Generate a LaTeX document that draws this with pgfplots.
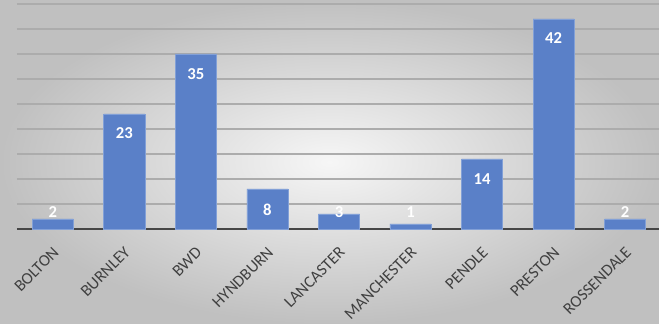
\documentclass[border=0pt]{standalone}
\usepackage{pgfplots}
\pgfplotsset{compat=1.18}
\usepackage{pgfplotstable}
\usepackage{fontspec}
\setmainfont{Carlito}
\definecolor{barblue}{RGB}{90,128,200}
\definecolor{baredge}{RGB}{130,160,215}
\definecolor{gridgray}{RGB}{172,172,172}
\definecolor{axisdark}{RGB}{70,70,70}
\definecolor{labgray}{RGB}{64,64,64}
\pgfplotstableread{
x v ly
0 2 3.4
1 23 19.2
2 35 30.9
3 8 3.8
4 3 3.4
5 1 3.4
6 14 9.9
7 42 38.2
8 2 3.4
}\datatab
\begin{document}
\begin{tikzpicture}[x=0.75pt,y=0.75pt]
\shade[inner color={rgb,255:red,246;green,246;blue,246}, outer color={rgb,255:red,192;green,192;blue,192}] (0,0) rectangle (659,324);
\begin{axis}[
  at={(17pt*0.75,95pt*0.75)}, anchor=south west,
  scale only axis,
  width=483pt, height=168.75pt,
  xmin=-0.5, xmax=8.5,
  ymin=0, ymax=45,
  ytick={5,10,...,45},
  yticklabels={},
  ymajorgrids,
  grid style={gridgray, line width=1.1pt},
  axis lines*=left,
  separate axis lines,
  y axis line style={draw=none},
  x axis line style={-, axisdark, line width=1.6pt},
  xtick={0,...,8},
  xticklabels={BOLTON,BURNLEY,BWD,HYNDBURN,LANCASTER,MANCHESTER,PENDLE,PRESTON,ROSSENDALE},
  major tick length=0pt,
  xticklabel style={rotate=45, anchor=north east, font=\fontsize{12.4}{14}\selectfont, text=labgray, inner sep=0pt, yshift=-8.4pt, xshift=-9.2pt},
  clip=false,
]
\addplot[ybar, bar width=0.575, fill=barblue, draw=baredge, line width=0.5pt] table[x=x, y=v] {\datatab};
\addplot[only marks, mark=none, nodes near coords, point meta=explicit symbolic,
  nodes near coords align=center,
  every node near coord/.append style={text=white, font=\fontsize{12.5}{14}\selectfont\bfseries}] table[x=x, y=ly, meta=v] {\datatab};
\end{axis}
\pgfresetboundingbox
\path[use as bounding box] (0,0) rectangle (659,324);
\end{tikzpicture}
\end{document}
